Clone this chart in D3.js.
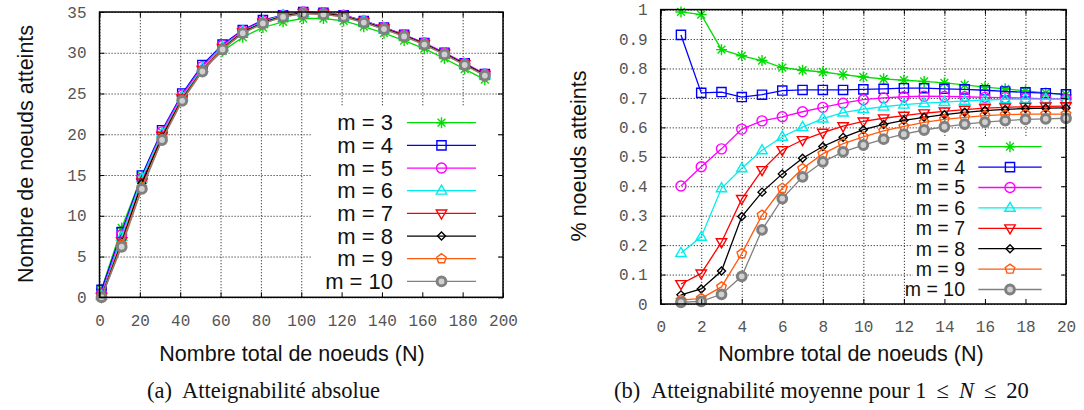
<!DOCTYPE html>
<html>
<head>
<meta charset="utf-8">
<script src="https://cdn.jsdelivr.net/npm/d3@7"></script>
<style>
body { margin: 0; background: #fff; }
svg { display: block; }
.tick text { font-family: "Liberation Mono", "Courier New", monospace; font-size: 16px; fill: #555; }
.grid line { stroke: #333; stroke-dasharray: 1.2,1.8; stroke-width: 1; }
.title { font-family: "Liberation Sans", Arial, sans-serif; font-size: 21.5px; fill: #111; }
.caption { font-family: "Liberation Serif", "Times New Roman", serif; font-size: 22.5px; fill: #111; }
</style>
</head>
<body>
<div id="chart"></div>
<script>

var seriesLabels = ["m = 3", "m = 4", "m = 5", "m = 6", "m = 7", "m = 8", "m = 9", "m = 10"];
var seriesColors = ["#00dd00", "#0000ff", "#ff00ff", "#00eeee", "#ff0000", "#000000", "#ff5a10", "#808080"];
var seriesShapes = ["star", "square", "circle", "triUp", "triDown", "diamond", "pentagon", "ring"];

// (a) nombre absolu de noeuds atteints
var nodesAbs = [1, 11, 21, 31, 41, 51, 61, 71, 81, 91, 101, 111, 121, 131, 141, 151, 161, 171, 181, 191];
var reachAbs3 = [0.99, 8.5, 14.9, 20.3, 24.6, 27.9, 30.2, 31.9, 33.1, 33.8, 34.2, 34.2, 33.9, 33.2, 32.4, 31.5, 30.5, 29.3, 28.0, 26.7];
var reachAbs4 = [0.91, 8.0, 14.95, 20.5, 25.0, 28.5, 31.0, 32.8, 34.0, 34.6, 35.0, 34.9, 34.6, 33.9, 33.1, 32.2, 31.2, 30.0, 28.7, 27.4];
var reachAbs5 = [0.40, 7.7, 14.6, 20.3, 24.8, 28.3, 30.9, 32.7, 33.9, 34.6, 35.0, 34.9, 34.6, 33.9, 33.1, 32.2, 31.2, 30.0, 28.7, 27.4];
var reachAbs6 = [0.17, 7.4, 14.6, 20.1, 24.6, 28.1, 30.7, 32.6, 33.8, 34.6, 34.9, 34.8, 34.5, 33.9, 33.0, 32.1, 31.1, 29.9, 28.6, 27.3];
var reachAbs7 = [0.07, 6.9, 14.1, 19.8, 24.4, 27.9, 30.6, 32.5, 33.7, 34.5, 34.9, 34.8, 34.5, 33.8, 33.0, 32.1, 31.1, 29.9, 28.6, 27.3];
var reachAbs8 = [0.03, 6.7, 14.0, 19.6, 24.3, 27.8, 30.5, 32.5, 33.7, 34.5, 34.9, 34.8, 34.5, 33.8, 33.0, 32.1, 31.1, 29.9, 28.6, 27.3];
var reachAbs9 = [0.01, 6.5, 13.5, 19.4, 24.2, 27.8, 30.5, 32.4, 33.6, 34.4, 34.8, 34.7, 34.4, 33.7, 32.9, 32.0, 31.0, 29.8, 28.5, 27.2];
var reachAbs10 = [0.01, 6.2, 13.3, 19.3, 24.1, 27.7, 30.4, 32.4, 33.6, 34.4, 34.8, 34.7, 34.4, 33.7, 32.9, 32.0, 31.0, 29.8, 28.5, 27.2];

// (b) pourcentage moyen, 1 <= N <= 20
var nodesAvg = [1, 2, 3, 4, 5, 6, 7, 8, 9, 10, 11, 12, 13, 14, 15, 16, 17, 18, 19, 20];
var reachAvg3 = [0.992, 0.983, 0.864, 0.843, 0.827, 0.803, 0.794, 0.788, 0.779, 0.771, 0.765, 0.760, 0.756, 0.751, 0.744, 0.737, 0.731, 0.724, 0.717, 0.711];
var reachAvg4 = [0.914, 0.717, 0.720, 0.703, 0.711, 0.725, 0.727, 0.727, 0.727, 0.729, 0.731, 0.733, 0.733, 0.731, 0.729, 0.726, 0.722, 0.719, 0.716, 0.712];
var reachAvg5 = [0.401, 0.466, 0.527, 0.594, 0.622, 0.636, 0.653, 0.668, 0.682, 0.694, 0.700, 0.704, 0.706, 0.705, 0.704, 0.702, 0.701, 0.699, 0.697, 0.696];
var reachAvg6 = [0.173, 0.228, 0.393, 0.461, 0.522, 0.568, 0.601, 0.630, 0.650, 0.662, 0.670, 0.677, 0.682, 0.686, 0.690, 0.693, 0.695, 0.696, 0.696, 0.695];
var reachAvg7 = [0.068, 0.104, 0.210, 0.357, 0.455, 0.523, 0.557, 0.582, 0.604, 0.620, 0.631, 0.640, 0.648, 0.654, 0.660, 0.665, 0.668, 0.670, 0.671, 0.672];
var reachAvg8 = [0.031, 0.051, 0.112, 0.297, 0.380, 0.442, 0.495, 0.535, 0.566, 0.592, 0.610, 0.624, 0.634, 0.643, 0.651, 0.657, 0.661, 0.664, 0.665, 0.666];
var reachAvg9 = [0.013, 0.019, 0.058, 0.171, 0.302, 0.393, 0.460, 0.510, 0.545, 0.568, 0.588, 0.603, 0.617, 0.627, 0.634, 0.640, 0.643, 0.645, 0.645, 0.645];
var reachAvg10 = [0.006, 0.009, 0.033, 0.094, 0.252, 0.358, 0.432, 0.483, 0.517, 0.540, 0.560, 0.577, 0.591, 0.602, 0.611, 0.618, 0.623, 0.627, 0.629, 0.631];

var ticksAbsX = [0, 20, 40, 60, 80, 100, 120, 140, 160, 180, 200];
var ticksAbsY = [0, 5, 10, 15, 20, 25, 30, 35];
var ticksAvgX = [0, 2, 4, 6, 8, 10, 12, 14, 16, 18, 20];
var ticksAvgY = [0, 0.1, 0.2, 0.3, 0.4, 0.5, 0.6, 0.7, 0.8, 0.9, 1];

var svg = d3.select("#chart").append("svg")
    .attr("width", 1084)
    .attr("height", 410);

function shapePath(type) {
    if (type === "star") return "M-5.5,0H5.5M0,-5.5V5.5M-3.9,-3.9L3.9,3.9M-3.9,3.9L3.9,-3.9";
    if (type === "square") return "M-4.6,-4.6H4.6V4.6H-4.6Z";
    if (type === "triUp") return "M0,-5.6L5.2,3.4H-5.2Z";
    if (type === "triDown") return "M0,5.6L5.2,-3.4H-5.2Z";
    if (type === "diamond") return "M0,-4L4,0L0,4L-4,0Z";
    if (type === "pentagon") {
        var pts = d3.range(5).map(function (k) {
            var a = -Math.PI / 2 + k * 2 * Math.PI / 5;
            return [5 * Math.cos(a), 5 * Math.sin(a)];
        });
        return "M" + pts.join("L") + "Z";
    }
    return null;
}

function drawMarker(g, type, color, cx, cy) {
    if (type === "circle") {
        g.append("circle").attr("cx", cx).attr("cy", cy).attr("r", 5)
            .attr("fill", "none").attr("stroke", color).attr("stroke-width", 1.4);
    } else if (type === "ring") {
        g.append("circle").attr("cx", cx).attr("cy", cy).attr("r", 4.4)
            .attr("fill", "#d0d0d0").attr("stroke", color).attr("stroke-width", 3);
    } else {
        g.append("path").attr("d", shapePath(type))
            .attr("transform", "translate(" + cx + "," + cy + ")")
            .attr("fill", "none").attr("stroke", color).attr("stroke-width", 1.4);
    }
}

function panel(p) {
    var x = p.x, y = p.y;
    var xl = x.range()[0], xr = x.range()[1], yb = y.range()[0], yt = y.range()[1];
    var g = svg.append("g");

    // grille pointillee
    g.append("g").attr("class", "grid")
        .attr("transform", "translate(0," + yb + ")")
        .call(d3.axisBottom(x).tickValues(p.xTicks).tickSize(-(yb - yt)).tickFormat(""))
        .call(function (s) { s.select(".domain").remove(); });
    g.append("g").attr("class", "grid")
        .attr("transform", "translate(" + xl + ",0)")
        .call(d3.axisLeft(y).tickValues(p.yTicks).tickSize(-(xr - xl)).tickFormat(""))
        .call(function (s) { s.select(".domain").remove(); });

    var line = d3.line()
        .x(function (d) { return x(d[0]); })
        .y(function (d) { return y(d[1]); });

    p.series.forEach(function (vals, i) {
        var pts = p.xs.map(function (v, j) { return [v, vals[j]]; });
        var sg = g.append("g");
        sg.append("path").datum(pts)
            .attr("d", line)
            .attr("fill", "none")
            .attr("stroke", seriesColors[i])
            .attr("stroke-width", 1.3);
        pts.forEach(function (d) {
            drawMarker(sg, seriesShapes[i], seriesColors[i], x(d[0]), y(d[1]));
        });
    });

    // legende opaque
    var lg = p.legend;
    g.append("rect")
        .attr("x", lg.boxX).attr("y", lg.boxY)
        .attr("width", xr - 4 - lg.boxX).attr("height", yb - lg.boxY)
        .attr("fill", "#fff");
    seriesLabels.forEach(function (lab, i) {
        var cy = lg.top + i * lg.step;
        g.append("text")
            .attr("x", lg.textX).attr("y", cy)
            .attr("dy", "0.35em")
            .attr("text-anchor", "end")
            .style("font-family", "Liberation Sans, Arial, sans-serif")
            .style("font-size", lg.fontSize + "px")
            .attr("fill", "#111")
            .text(lab);
        g.append("line")
            .attr("x1", lg.lineX1).attr("x2", lg.lineX2)
            .attr("y1", cy).attr("y2", cy)
            .attr("stroke", seriesColors[i]).attr("stroke-width", 1.3);
        drawMarker(g, seriesShapes[i], seriesColors[i], (lg.lineX1 + lg.lineX2) / 2, cy);
    });

    // cadre et graduations
    g.append("g").attr("transform", "translate(0," + yb + ")")
        .call(d3.axisBottom(x).tickValues(p.xTicks).tickSize(-5).tickPadding(17).tickFormat(p.xFormat))
        .call(function (s) { s.select(".domain").remove(); });
    g.append("g").attr("transform", "translate(0," + yt + ")")
        .call(d3.axisTop(x).tickValues(p.xTicks).tickSize(-5).tickFormat(""))
        .call(function (s) { s.select(".domain").remove(); });
    g.append("g").attr("transform", "translate(" + xl + ",0)")
        .call(d3.axisLeft(y).tickValues(p.yTicks).tickSize(-5).tickPadding(13).tickFormat(p.yFormat))
        .call(function (s) { s.select(".domain").remove(); });
    g.append("g").attr("transform", "translate(" + xr + ",0)")
        .call(d3.axisRight(y).tickValues(p.yTicks).tickSize(-5).tickFormat(""))
        .call(function (s) { s.select(".domain").remove(); });
    g.selectAll(".tick line").filter(function () {
        return this.parentNode.parentNode.getAttribute("class") !== "grid";
    }).attr("stroke", "#000");

    g.append("rect")
        .attr("x", xl).attr("y", yt)
        .attr("width", xr - xl).attr("height", yb - yt)
        .attr("fill", "none").attr("stroke", "#000").attr("stroke-width", 1.5);

    g.append("text").attr("class", "title")
        .attr("x", p.xTitleX).attr("y", 361)
        .attr("text-anchor", "middle")
        .text("Nombre total de noeuds (N)");
    g.append("text").attr("class", "title")
        .attr("transform", "translate(" + p.yTitleX + "," + p.yTitleY + ") rotate(-90)")
        .attr("text-anchor", "middle")
        .text(p.yTitle);
}

panel({
    x: d3.scaleLinear().domain([0, 200]).range([99.5, 503]),
    y: d3.scaleLinear().domain([0, 35]).range([297.3, 12]),
    xTicks: ticksAbsX, yTicks: ticksAbsY,
    xFormat: d3.format("d"), yFormat: d3.format("d"),
    xs: nodesAbs,
    series: [reachAbs3, reachAbs4, reachAbs5, reachAbs6, reachAbs7, reachAbs8, reachAbs9, reachAbs10],
    legend: {boxX: 312, boxY: 107, top: 122.7, step: 22.67, textX: 393, lineX1: 407, lineX2: 476, fontSize: 22},
    xTitleX: 292, yTitleX: 33, yTitleY: 154,
    yTitle: "Nombre de noeuds atteints"
});

panel({
    x: d3.scaleLinear().domain([0, 20]).range([660.7, 1066]),
    y: d3.scaleLinear().domain([0, 1]).range([304, 9.6]),
    xTicks: ticksAvgX, yTicks: ticksAvgY,
    xFormat: d3.format("d"), yFormat: function (d) { return d === 0 || d === 1 ? String(d) : d.toFixed(1); },
    xs: nodesAvg,
    series: [reachAvg3, reachAvg4, reachAvg5, reachAvg6, reachAvg7, reachAvg8, reachAvg9, reachAvg10],
    legend: {boxX: 913, boxY: 137, top: 146.7, step: 20.4, textX: 965, lineX1: 978.3, lineX2: 1041.7, fontSize: 19.5},
    xTitleX: 851, yTitleX: 585.5, yTitleY: 156,
    yTitle: "% noeuds atteints"
});

// sous-titres
svg.append("text").attr("class", "caption").attr("x", 147).attr("y", 398).text("(a)");
svg.append("text").attr("class", "caption").attr("x", 182).attr("y", 398).text("Atteignabilité absolue");

svg.append("text").attr("class", "caption").attr("x", 614).attr("y", 398).text("(b)");
var capB = svg.append("text").attr("class", "caption").attr("x", 651).attr("y", 398);
capB.append("tspan").text("Atteignabilité moyenne pour 1");
capB.append("tspan").attr("dx", 10).text("≤");
capB.append("tspan").attr("dx", 10).style("font-style", "italic").text("N");
capB.append("tspan").attr("dx", 10).text("≤");
capB.append("tspan").attr("dx", 10).text("20");

</script>
</body>
</html>
